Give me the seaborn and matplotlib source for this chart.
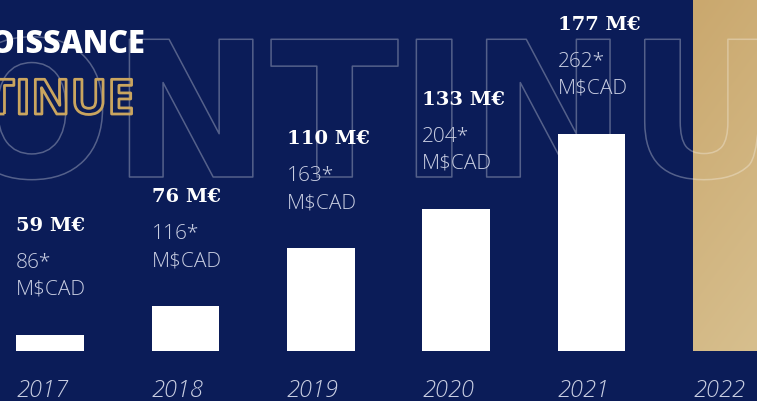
import numpy as np
import pandas as pd
import matplotlib
matplotlib.use("Agg")
import matplotlib.pyplot as plt
import seaborn as sns
from matplotlib import patheffects
from matplotlib.transforms import Affine2D, blended_transform_factory

# --- data -------------------------------------------------------------
years = ["2017", "2018", "2019", "2020", "2021", "2022"]
revenue_eur = [59, 76, 110, 133, 177]      # chiffre d'affaires, M€
revenue_cad = [86, 116, 163, 204, 262]     # équivalent, M$CAD
highlight_year = "2022"
heading_line1 = "CROISSANCE"
heading_line2 = "CONTINUE"
backdrop_word = "CONTINUE"

# --- style ------------------------------------------------------------
NAVY = "#0b1c58"
WHITE = "#ffffff"
SOFT = "#c9cee2"
GOLD_LINE = "#caa55f"
GOLD_TOP = np.array([202, 168, 110]) / 255
GOLD_BOTTOM = np.array([215, 191, 142]) / 255

W, H = 757, 401
sns.set_theme(style="white", rc={"figure.facecolor": NAVY,
                                 "axes.facecolor": NAVY,
                                 "savefig.facecolor": NAVY})
plt.rcParams["font.family"] = ["Open Sans", "DejaVu Sans"]

fig = plt.figure(figsize=(W / 100, H / 100), dpi=100)
# pixel coordinates measured from the top-left corner
px = Affine2D().scale(1 / W, -1 / H).translate(0, 1) + fig.transFigure

BASELINE_PX = 351      # bar baseline, from the top
AXIS_FLOOR = 49.6      # value sitting on the baseline (truncated axis)
PX_PER_MEUR = 1.7034
PITCH = 135.4          # px between bar centres
FIRST_CENTRE = 50
BAR_W = 0.5
half = BAR_W / 2

ax = fig.add_axes([0, (H - BASELINE_PX) / H, 1, BASELINE_PX / H])
df = pd.DataFrame({"year": years[:len(revenue_eur)], "eur": revenue_eur})
sns.barplot(data=df, x="year", y="eur", order=years, color=WHITE,
            saturation=1, width=BAR_W, errorbar=None, linewidth=0,
            ax=ax, zorder=2)

# highlighted year: gold gradient column running off the top
hx = years.index(highlight_year)
ytop = AXIS_FLOOR + BASELINE_PX / PX_PER_MEUR
ty = np.linspace(0, 1, 64)[:, None]
tx = np.linspace(0, 1, 16)[None, :]
t = np.clip(0.8 * ty + 0.2 * tx, 0, 1)[..., None]
img = GOLD_TOP[None, None, :] * (1 - t) + GOLD_BOTTOM[None, None, :] * t
ax.imshow(img, extent=(hx - half, hx + half, AXIS_FLOOR, ytop),
          aspect="auto", origin="upper", interpolation="bilinear", zorder=1)

ax.set_xlim(-FIRST_CENTRE / PITCH, (W - FIRST_CENTRE) / PITCH)
ax.set_ylim(AXIS_FLOOR, ytop)
ax.set_axis_off()

# value labels above each bar
for i, (eur, cad) in enumerate(zip(revenue_eur, revenue_cad)):
    left = i - half
    ax.annotate(f"{eur} M€", xy=(left, eur), xytext=(0, 104),
                textcoords="offset pixels", ha="left", va="baseline",
                fontsize=14, fontweight="bold", family=["DejaVu Serif"],
                color=WHITE, zorder=5, annotation_clip=False)
    ax.annotate(f"{cad}*", xy=(left, eur), xytext=(0, 67),
                textcoords="offset pixels", ha="left", va="baseline",
                fontsize=15, fontweight="light", color=SOFT, zorder=5,
                annotation_clip=False)
    ax.annotate("M$CAD", xy=(left, eur), xytext=(0, 40),
                textcoords="offset pixels", ha="left", va="baseline",
                fontsize=15, fontweight="light", color=SOFT, zorder=5,
                annotation_clip=False)

# year captions under the bars
year_tf = blended_transform_factory(ax.transData, px)
for i, yr in enumerate(years):
    ax.text(i - half, 397, yr, transform=year_tf, ha="left", va="baseline",
            fontsize=17, fontstyle="italic", fontweight="light", color=SOFT,
            zorder=5)

# large outlined backdrop word
bd_props = dict(fontsize=136, family=["DejaVu Sans"], fontweight="bold")
renderer = fig.canvas.get_renderer()
probe = ax.text(0, 0, backdrop_word[:2], transform=px, **bd_props)
lead = probe.get_window_extent(renderer).width
probe.remove()
ax.text(112 - lead, 177, backdrop_word, transform=px, ha="left", va="baseline",
        color="none", zorder=3, **bd_props,
        path_effects=[patheffects.Stroke(linewidth=1.1,
                                         foreground=(1, 1, 1, 0.3))])

# headline
ax.text(145, 53, heading_line1, transform=px, ha="right", va="baseline",
        fontsize=22, fontweight="heavy", color=WHITE, zorder=6)
ax.text(135, 114, heading_line2, transform=px, ha="right", va="baseline",
        fontsize=35, fontweight="bold", color="none", zorder=6,
        path_effects=[patheffects.Stroke(linewidth=2, foreground=GOLD_LINE)])

fig.savefig("out.png", dpi=100, facecolor=NAVY)
